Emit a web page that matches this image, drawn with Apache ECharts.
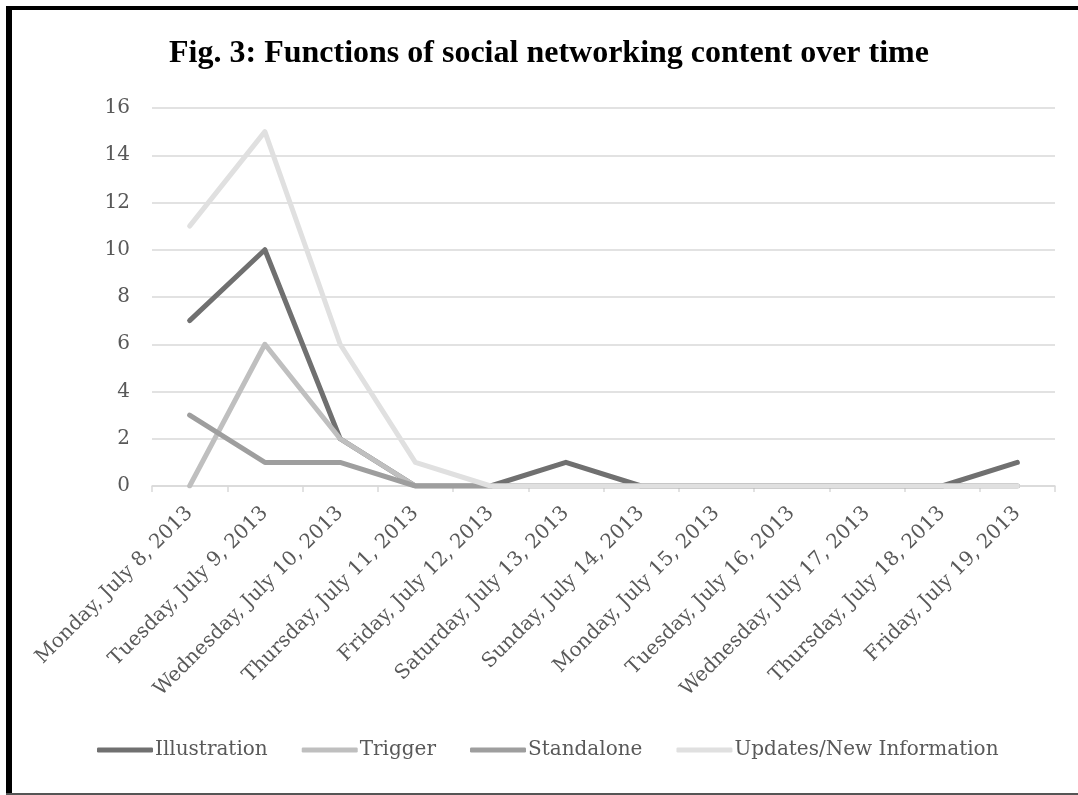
<!DOCTYPE html>
<html>
<head>
<meta charset="utf-8">
<script src="https://cdn.jsdelivr.net/npm/echarts@6/dist/echarts.min.js"></script>
<style>
  html, body { margin: 0; padding: 0; background: #fff; }
  #wrap { position: relative; width: 1078px; height: 795px; }
  #chart { position: absolute; left: 0; top: 0; width: 1078px; height: 795px; }
  .b { position: absolute; pointer-events: none; }
</style>
</head>
<body>
<div id="wrap">
  <div id="chart"></div>
  <div class="b" style="left:6px;top:6px;width:1072px;height:4px;background:#000;"></div>
  <div class="b" style="left:6px;top:6px;width:6px;height:789px;background:#000;"></div>
  <div class="b" style="left:6px;top:793px;width:1072px;height:2px;background:#555;"></div>
</div>
<script>
const categories = [
  'Monday, July 8, 2013', 'Tuesday, July 9, 2013', 'Wednesday, July 10, 2013',
  'Thursday, July 11, 2013', 'Friday, July 12, 2013', 'Saturday, July 13, 2013',
  'Sunday, July 14, 2013', 'Monday, July 15, 2013', 'Tuesday, July 16, 2013',
  'Wednesday, July 17, 2013', 'Thursday, July 18, 2013', 'Friday, July 19, 2013'
];
const illustration = [7, 10, 2, 0, 0, 1, 0, 0, 0, 0, 0, 1];
const trigger      = [0, 6, 2, 0, 0, 0, 0, 0, 0, 0, 0, 0];
const standalone   = [3, 1, 1, 0, 0, 0, 0, 0, 0, 0, 0, 0];
const updates      = [11, 15, 6, 1, 0, 0, 0, 0, 0, 0, 0, 0];
const seriesNames  = ['Illustration', 'Trigger', 'Standalone', 'Updates/New Information'];
const seriesColors = ['#707070', '#bfbfbf', '#9e9e9e', '#e0e0e0'];

const chart = echarts.init(document.getElementById('chart'), null, { renderer: 'canvas' });
const dataSets = [illustration, trigger, standalone, updates];
const serif = 'DejaVu Serif';

chart.setOption({
  animation: false,
  backgroundColor: '#fff',
  title: {
    text: 'Fig. 3: Functions of social networking content over time',
    left: 544, top: 33, textAlign: 'center',
    textStyle: { fontFamily: 'Liberation Serif', fontWeight: 'bold', fontSize: 32, color: '#000' }
  },
  legend: {
    bottom: 30, left: 92,
    itemWidth: 56, itemHeight: 5, itemGap: 34,
    icon: 'roundRect',
    textStyle: { fontFamily: serif, fontSize: 20, color: '#595959', padding: [0, 0, 0, -3] },
    data: seriesNames
  },
  grid: { left: 152, right: 23, top: 108, bottom: 309, containLabel: false },
  xAxis: {
    type: 'category',
    data: categories,
    boundaryGap: true,
    axisLine: { lineStyle: { color: '#d9d9d9', width: 1.5 } },
    axisTick: { show: true, length: 6, lineStyle: { color: '#d9d9d9', width: 1.5 } },
    axisLabel: { rotate: 45, interval: 0, margin: 24, fontFamily: serif, fontSize: 20, color: '#595959' },
    splitLine: { show: false }
  },
  yAxis: {
    type: 'value',
    min: 0, max: 16, interval: 2,
    axisLine: { show: false },
    axisTick: { show: false },
    axisLabel: { fontFamily: serif, fontSize: 20, color: '#595959', margin: 22 },
    splitLine: { lineStyle: { color: '#d9d9d9', width: 1.5 } }
  },
  series: seriesNames.map((n, i) => ({
    name: n,
    type: 'line',
    data: dataSets[i],
    symbol: 'none',
    color: seriesColors[i],
    lineStyle: { width: 5, color: seriesColors[i], cap: 'round', join: 'round' },
    z: 2 + i
  }))
});
</script>
</body>
</html>
